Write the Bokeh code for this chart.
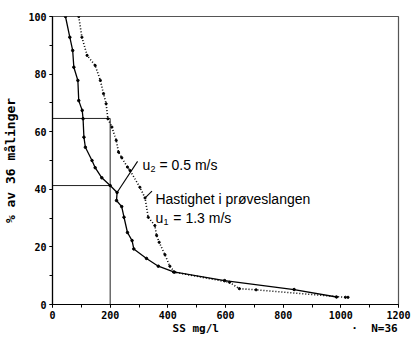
from bokeh.plotting import figure
from bokeh.models import Label, FixedTicker, Range1d
from bokeh.embed import file_html
from bokeh.resources import INLINE

# u2 = 0.5 m/s (solid curve)
ss_u2 = [45, 60, 70, 74, 88, 91, 103, 106, 109, 114, 137, 148, 171, 200, 224, 222, 240, 248, 260, 276, 282, 326, 367, 420, 597, 838, 985]
pct_u2 = [100, 92.8, 88.2, 82.4, 77.8, 70.8, 67.4, 64.5, 58.1, 54.6, 50.0, 47.5, 44.0, 41.3, 38.9, 36.1, 34.0, 30.3, 25.0, 22.2, 19.3, 16.0, 13.3, 11.3, 8.3, 5.2, 2.6]

# u1 = 1.3 m/s (dotted curve)
ss_u1 = [91, 102, 120, 148, 166, 177, 186, 192, 206, 221, 229, 240, 260, 269, 303, 321, 332, 355, 361, 370, 390, 407, 424, 614, 648, 706, 1016, 1025]
pct_u1 = [100, 92.8, 86.5, 83.0, 77.8, 73.2, 69.7, 64.5, 61.6, 57.0, 52.9, 51.0, 47.7, 46.5, 40.7, 37.0, 30.3, 27.4, 24.0, 21.6, 17.3, 13.3, 11.2, 7.7, 5.5, 5.1, 2.5, 2.5]

cut_ss = 200
cut_levels = [64.6, 41.3]

x_ticks = [0, 200, 400, 600, 800, 1000, 1200]
y_ticks = [0, 20, 40, 60, 80, 100]

x_title = "SS mg/l"
n_note = "N=36"

p = figure(width=413, height=337, output_backend="svg", toolbar_location=None,
           x_range=Range1d(0, 1200), y_range=Range1d(0, 100),
           min_border_left=52, min_border_right=15, min_border_top=16, min_border_bottom=33)
p.grid.visible = False
p.outline_line_color = "#555555"
p.outline_line_width = 1.2
p.background_fill_color = "white"
p.border_fill_color = "white"

for ax in (p.xaxis[0], p.yaxis[0]):
    ax.axis_line_color = "black"
    ax.axis_line_width = 1.2
    ax.major_tick_in = 0
    ax.major_tick_out = 3
    ax.minor_tick_in = 0
    ax.minor_tick_out = 3
    ax.major_tick_line_color = "black"
    ax.minor_tick_line_color = "black"
    ax.major_label_text_font = "DejaVu Sans Mono"
    ax.major_label_text_font_style = "bold"
    ax.major_label_text_font_size = "10px"
    ax.major_label_text_color = "black"
    ax.major_label_standoff = 3
    ax.axis_label_text_font = "DejaVu Sans Mono"
    ax.axis_label_text_font_style = "bold"
    ax.axis_label_text_color = "black"

p.xaxis[0].ticker = FixedTicker(ticks=x_ticks, minor_ticks=list(range(0, 1201, 100)))
p.yaxis[0].ticker = FixedTicker(ticks=y_ticks, minor_ticks=list(range(0, 101, 10)))

p.yaxis[0].axis_label = "% av 36 målinger"
p.yaxis[0].axis_label_text_font_size = "13px"
p.yaxis[0].axis_label_standoff = 7

# x-axis title and the "N=36" note share the row below the tick labels
nb = "\u00a0"
p.xaxis[0].axis_label = nb * 18 + x_title.replace(" ", nb) + nb * 20 + "·" + nb * 2 + n_note
p.xaxis[0].axis_label_text_font_size = "11px"
p.xaxis[0].axis_label_standoff = 0

# reference lines
for lv in cut_levels:
    p.line([0, cut_ss], [lv, lv], line_color="#222222", line_width=1)
p.line([cut_ss, cut_ss], [0, max(cut_levels)], line_color="#222222", line_width=1)

# curves
p.line(ss_u2, pct_u2, line_color="black", line_width=1.3)
p.scatter(ss_u2, pct_u2, size=2.5, color="black")
p.line(ss_u1, pct_u1, line_color="black", line_width=1.6, line_dash="1 2")
p.scatter(ss_u1, pct_u1, size=2.2, color="black")

# leaders
p.line([224, 295], [38.9, 49.7], line_color="black", line_width=1.1)
p.line([323, 345], [37.2, 39.4], line_color="black", line_width=1.1)

def lab(x, y, t, size="14px", font="Liberation Sans", **kw):
    l = Label(x=x, y=y, text=t, text_font=font, text_font_size=size,
              text_color="black", text_baseline="alphabetic", text_align="left", **kw)
    p.add_layout(l)

lab(312, 48.6, "u")
lab(340, 47.2, "2", size="9px")
lab(371, 48.6, "= 0.5 m/s")
lab(357, 36.8, "Hastighet i prøveslangen")
lab(357, 29.9, "u")
lab(385, 28.6, "1", size="9px")
lab(419, 29.9, "= 1.3 m/s")

open("out.html", "w").write(file_html(p, INLINE))
